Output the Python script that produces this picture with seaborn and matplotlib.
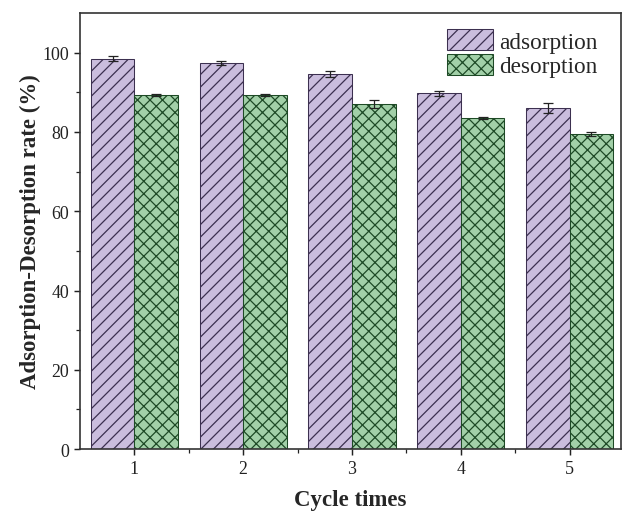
import numpy as np
import pandas as pd
import matplotlib
matplotlib.use("Agg")
import matplotlib.pyplot as plt
import seaborn as sns

# Cycle data: removal (adsorption) and recovery (desorption) rates with errors
cycles = ["1", "2", "3", "4", "5"]
adsorption = [98.5, 97.5, 94.6, 89.7, 86.0]
adsorption_err = [0.7, 0.5, 0.8, 0.7, 1.2]
desorption = [89.3, 89.3, 87.0, 83.5, 79.5]
desorption_err = [0.3, 0.3, 1.0, 0.3, 0.4]
series = ["adsorption", "desorption"]

df = pd.DataFrame({
    "cycle": cycles * 2,
    "rate": adsorption + desorption,
    "err": adsorption_err + desorption_err,
    "series": [series[0]] * len(cycles) + [series[1]] * len(cycles),
})

sns.set_style("ticks")
plt.rcParams["font.family"] = ["Liberation Serif", "DejaVu Serif"]
plt.rcParams["hatch.linewidth"] = 0.6

fig = plt.figure(figsize=(4.16, 3.4533), dpi=150)
ax = fig.add_axes([0.128, 0.131, 0.867, 0.842])

face = {"adsorption": "#c9b8e2", "desorption": "#9ad8a2"}
edge = {"adsorption": "#3c3050", "desorption": "#1e4a26"}
hatch = {"adsorption": "////", "desorption": "xxxx"}

sns.barplot(data=df, x="cycle", y="rate", hue="series", order=cycles,
            hue_order=series, palette=face, errorbar=None, width=0.8,
            ax=ax, legend=True)

# Style bars per series and attach error bars from the bar geometry
for cont, name in zip(ax.containers, series):
    errs = df.loc[df["series"] == name, "err"].to_numpy()
    xs, hs = [], []
    for bar in cont:
        bar.set_hatch(hatch[name])
        bar.set_edgecolor(edge[name])
        bar.set_linewidth(0.5)
        xs.append(bar.get_x() + bar.get_width() / 2)
        hs.append(bar.get_height())
    ax.errorbar(xs, hs, yerr=errs, fmt="none", ecolor="#222222",
                elinewidth=0.6, capsize=2.2, capthick=0.6, zorder=5)

ax.set_xlim(-0.5, 4.47)
ax.set_ylim(0, 110)
ax.set_yticks([0, 20, 40, 60, 80, 100])
ax.set_yticks(np.arange(10, 110, 20), minor=True)
ax.set_xticks(np.arange(0.5, 4.5, 1), minor=True)

for s in ax.spines.values():
    s.set_linewidth(0.8)
    s.set_color("#333333")
ax.tick_params(axis="both", which="major", direction="out", length=3,
               width=0.7, labelsize=8.6, colors="#222222", pad=2)
ax.tick_params(axis="both", which="minor", direction="out", length=2,
               width=0.6, colors="#222222")

ax.set_xlabel("Cycle times", fontsize=11, fontweight="bold", labelpad=6)
ax.set_ylabel("Adsorption-Desorption rate (%)", fontsize=11,
              fontweight="bold", labelpad=1)

leg = ax.legend(loc="upper right", bbox_to_anchor=(0.983, 0.995),
                frameon=False, fontsize=11.2, handlelength=2.0,
                handleheight=1.0, handletextpad=0.25, labelspacing=0.05,
                borderaxespad=0.2)
for patch, name in zip(leg.get_patches(), series):
    patch.set_hatch(hatch[name])
    patch.set_edgecolor(edge[name])
    patch.set_linewidth(0.5)

fig.savefig("out.png", dpi=150)
